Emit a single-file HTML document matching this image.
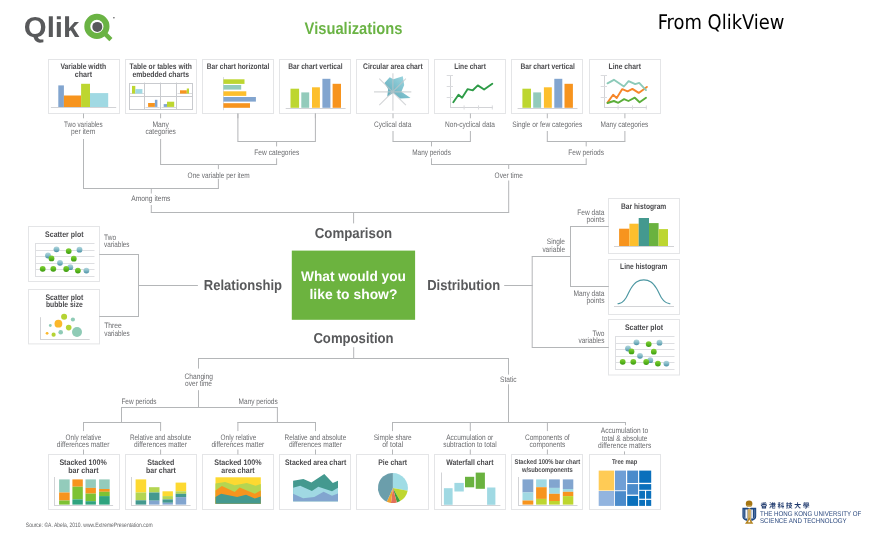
<!DOCTYPE html>
<html lang="en"><head><meta charset="utf-8"><title>Visualizations - From QlikView</title>
<style>
html,body{margin:0;padding:0;background:#fff;}
body{width:871px;height:535px;overflow:hidden;}
svg{display:block;text-rendering:geometricPrecision;font-family:"Liberation Sans","Noto Sans CJK TC",sans-serif;}
.ln path{stroke:#b4b6b8;stroke-width:1;fill:none;}
.ax path{stroke:#d2d3d6;stroke-width:1;fill:none;}
.tk path{stroke:#dadbde;}
.sg path{stroke:#dedfe2;}
</style></head><body>
<svg width="871" height="535" viewBox="0 0 871 535">
<defs>
<linearGradient id="gb" x1="0" y1="0" x2="0" y2="1"><stop offset="0" stop-color="#b2d6dd"/><stop offset="0.45" stop-color="#8bbfcb"/><stop offset="1" stop-color="#4a90a4"/></linearGradient>
<linearGradient id="gg" x1="0" y1="0" x2="0" y2="1"><stop offset="0" stop-color="#84d038"/><stop offset="0.45" stop-color="#63bd22"/><stop offset="1" stop-color="#3a9a10"/></linearGradient>
<linearGradient id="rad" x1="1" y1="0" x2="0" y2="1"><stop offset="0" stop-color="#a6dde6"/><stop offset="1" stop-color="#5aa6b6"/></linearGradient>
</defs>
<rect width="871" height="535" fill="#fff"/>

<text x="23.8" y="36.8" font-size="28.6" font-weight="bold" fill="#58595b" textLength="55.5" lengthAdjust="spacingAndGlyphs">Qlik</text>
<g><circle cx="96.9" cy="26.4" r="9.6" fill="none" stroke="#6ab344" stroke-width="6"/><path d="M104.6 33.4L110.9 39.6" stroke="#6ab344" stroke-width="4.4" fill="none"/><circle cx="97.3" cy="26.9" r="5" fill="#58595b"/><circle cx="113.9" cy="17.8" r="0.8" fill="#58595b"/></g>
<text x="304.6" y="33.8" font-size="16.8" font-weight="bold" fill="#6ab344" textLength="97.8" lengthAdjust="spacingAndGlyphs">Visualizations</text>
<text x="657.7" y="29.2" font-size="20.2" font-weight="normal" fill="#000" textLength="126.8" lengthAdjust="spacingAndGlyphs" font-family="DejaVu Sans Condensed, DejaVu Sans, Liberation Sans, sans-serif">From QlikView</text>
<rect x="48.5" y="59.5" width="71.0" height="54.0" fill="#fff" stroke="#e4e5e7" stroke-width="1"/>
<rect x="48.5" y="454.5" width="71.0" height="55.0" fill="#fff" stroke="#e4e5e7" stroke-width="1"/>
<rect x="125.5" y="59.5" width="71.0" height="54.0" fill="#fff" stroke="#e4e5e7" stroke-width="1"/>
<rect x="125.5" y="454.5" width="71.0" height="55.0" fill="#fff" stroke="#e4e5e7" stroke-width="1"/>
<rect x="202.5" y="59.5" width="71.0" height="54.0" fill="#fff" stroke="#e4e5e7" stroke-width="1"/>
<rect x="202.5" y="454.5" width="71.0" height="55.0" fill="#fff" stroke="#e4e5e7" stroke-width="1"/>
<rect x="279.5" y="59.5" width="71.0" height="54.0" fill="#fff" stroke="#e4e5e7" stroke-width="1"/>
<rect x="279.5" y="454.5" width="71.0" height="55.0" fill="#fff" stroke="#e4e5e7" stroke-width="1"/>
<rect x="356.5" y="59.5" width="72.0" height="54.0" fill="#fff" stroke="#e4e5e7" stroke-width="1"/>
<rect x="356.5" y="454.5" width="72.0" height="55.0" fill="#fff" stroke="#e4e5e7" stroke-width="1"/>
<rect x="434.5" y="59.5" width="71.0" height="54.0" fill="#fff" stroke="#e4e5e7" stroke-width="1"/>
<rect x="434.5" y="454.5" width="71.0" height="55.0" fill="#fff" stroke="#e4e5e7" stroke-width="1"/>
<rect x="511.5" y="59.5" width="71.0" height="54.0" fill="#fff" stroke="#e4e5e7" stroke-width="1"/>
<rect x="511.5" y="454.5" width="71.0" height="55.0" fill="#fff" stroke="#e4e5e7" stroke-width="1"/>
<rect x="589.5" y="59.5" width="71.0" height="54.0" fill="#fff" stroke="#e4e5e7" stroke-width="1"/>
<rect x="589.5" y="454.5" width="71.0" height="55.0" fill="#fff" stroke="#e4e5e7" stroke-width="1"/>
<rect x="28.5" y="226.5" width="71.0" height="55.0" fill="#fff" stroke="#e4e5e7" stroke-width="1"/>
<rect x="28.5" y="289.5" width="71.0" height="54.39999999999998" fill="#fff" stroke="#e4e5e7" stroke-width="1"/>
<rect x="608.5" y="198.5" width="71.0" height="55.0" fill="#fff" stroke="#e4e5e7" stroke-width="1"/>
<rect x="608.5" y="259.5" width="71.0" height="55.0" fill="#fff" stroke="#e4e5e7" stroke-width="1"/>
<rect x="608.5" y="319.5" width="71.0" height="55.5" fill="#fff" stroke="#e4e5e7" stroke-width="1"/>
<g class="ln">
<path d="M83.5 113.5V118.3"/>
<path d="M160.6 113.5V118.3"/>
<path d="M237.9 113.5V118.3"/>
<path d="M315.4 113.5V118.3"/>
<path d="M393.0 113.5V118.3"/>
<path d="M470.4 113.5V118.3"/>
<path d="M547.3 113.5V118.3"/>
<path d="M624.9 113.5V118.3"/>
<path d="M83.5 139.0V188.4"/>
<path d="M83.0 188.5H218.9"/>
<path d="M151.3 188.4V193.5"/>
<path d="M151.3 205.0V212.4"/>
<path d="M150.8 212.5H509.2"/>
<path d="M160.6 139.0V164.3"/>
<path d="M160.1 164.5H277.1"/>
<path d="M218.4 164.3V169.2"/>
<path d="M218.4 178.8V188.4"/>
<path d="M237.9 113.5V141.3"/>
<path d="M315.4 113.5V141.3"/>
<path d="M237.4 141.5H315.9"/>
<path d="M276.6 141.3V146.4"/>
<path d="M276.6 158.3V164.3"/>
<path d="M353.6 212.4V223.4"/>
<path d="M393.0 131.0V141.3"/>
<path d="M470.4 131.0V141.3"/>
<path d="M392.5 141.5H470.9"/>
<path d="M431.5 141.3V146.4"/>
<path d="M431.5 158.3V164.3"/>
<path d="M431.0 164.5H586.7"/>
<path d="M508.7 164.3V169.0"/>
<path d="M508.7 180.5V212.4"/>
<path d="M547.3 131.0V141.3"/>
<path d="M624.9 131.0V141.3"/>
<path d="M546.8 141.5H625.4"/>
<path d="M586.2 141.3V146.4"/>
<path d="M586.2 158.3V164.3"/>
<path d="M99.3 254.5H139.0"/>
<path d="M99.3 316.5H139.0"/>
<path d="M138.5 254.5V316.1"/>
<path d="M138.0 285.5H197.9"/>
<path d="M504.2 285.5H532.7"/>
<path d="M532.2 256.7V347.0"/>
<path d="M531.7 256.5H571.0"/>
<path d="M570.5 226.1V286.1"/>
<path d="M570.0 226.5H608.8"/>
<path d="M570.0 286.5H608.8"/>
<path d="M531.7 347.5H608.8"/>
<path d="M353.7 347.2V358.0"/>
<path d="M198.0 358.5H509.0"/>
<path d="M198.5 358.0V368.6"/>
<path d="M198.5 390.2V407.2"/>
<path d="M121.0 407.5H277.9"/>
<path d="M121.5 407.2V422.2"/>
<path d="M83.0 422.5H161.1"/>
<path d="M83.5 422.2V431.1"/>
<path d="M160.6 422.2V431.1"/>
<path d="M277.4 407.2V422.2"/>
<path d="M237.4 422.5H316.0"/>
<path d="M237.9 422.2V431.1"/>
<path d="M315.5 422.2V431.1"/>
<path d="M508.5 358.0V374.6"/>
<path d="M508.5 384.3V422.2"/>
<path d="M392.0 422.5H626.0"/>
<path d="M392.5 422.2V431.1"/>
<path d="M470.3 422.2V431.1"/>
<path d="M547.4 422.2V431.1"/>
<path d="M625.5 422.2V425.3"/>
<path d="M83.5 449.5V454.5"/>
<path d="M160.6 449.5V454.5"/>
<path d="M237.9 449.5V454.5"/>
<path d="M315.5 449.5V454.5"/>
<path d="M392.5 449.5V454.5"/>
<path d="M470.3 449.5V454.5"/>
<path d="M547.4 449.5V454.5"/>
<path d="M624.5 451.4V454.5"/>
</g>
<text x="64.1" y="126.9" font-size="7.9" font-weight="normal" fill="#6b6c6f" textLength="38.7" lengthAdjust="spacingAndGlyphs">Two variables</text>
<text x="71.1" y="133.9" font-size="7.9" font-weight="normal" fill="#6b6c6f" textLength="24.2" lengthAdjust="spacingAndGlyphs">per item</text>
<text x="152.5" y="126.9" font-size="7.9" font-weight="normal" fill="#6b6c6f" textLength="16.5" lengthAdjust="spacingAndGlyphs">Many</text>
<text x="145.4" y="133.8" font-size="7.9" font-weight="normal" fill="#6b6c6f" textLength="30.5" lengthAdjust="spacingAndGlyphs">categories</text>
<text x="374.0" y="127.0" font-size="7.9" font-weight="normal" fill="#6b6c6f" textLength="37.3" lengthAdjust="spacingAndGlyphs">Cyclical data</text>
<text x="445.1" y="127.0" font-size="7.9" font-weight="normal" fill="#6b6c6f" textLength="49.9" lengthAdjust="spacingAndGlyphs">Non-cyclical data</text>
<text x="512.2" y="127.0" font-size="7.9" font-weight="normal" fill="#6b6c6f" textLength="70.1" lengthAdjust="spacingAndGlyphs">Single or few categories</text>
<text x="600.5" y="127.0" font-size="7.9" font-weight="normal" fill="#6b6c6f" textLength="47.8" lengthAdjust="spacingAndGlyphs">Many categories</text>
<text x="254.3" y="154.7" font-size="7.9" font-weight="normal" fill="#6b6c6f" textLength="44.9" lengthAdjust="spacingAndGlyphs">Few categories</text>
<text x="412.2" y="154.7" font-size="7.9" font-weight="normal" fill="#6b6c6f" textLength="38.7" lengthAdjust="spacingAndGlyphs">Many periods</text>
<text x="568.3" y="154.7" font-size="7.9" font-weight="normal" fill="#6b6c6f" textLength="35.7" lengthAdjust="spacingAndGlyphs">Few periods</text>
<text x="187.6" y="177.6" font-size="7.9" font-weight="normal" fill="#6b6c6f" textLength="62.1" lengthAdjust="spacingAndGlyphs">One variable per item</text>
<text x="494.6" y="177.6" font-size="7.9" font-weight="normal" fill="#6b6c6f" textLength="28.2" lengthAdjust="spacingAndGlyphs">Over time</text>
<text x="131.3" y="201.1" font-size="7.9" font-weight="normal" fill="#6b6c6f" textLength="39.1" lengthAdjust="spacingAndGlyphs">Among items</text>
<text x="104.1" y="239.9" font-size="7.9" font-weight="normal" fill="#6b6c6f" textLength="12.1" lengthAdjust="spacingAndGlyphs">Two</text>
<text x="104.1" y="246.9" font-size="7.9" font-weight="normal" fill="#6b6c6f" textLength="25.4" lengthAdjust="spacingAndGlyphs">variables</text>
<text x="104.2" y="328.1" font-size="7.9" font-weight="normal" fill="#6b6c6f" textLength="17.6" lengthAdjust="spacingAndGlyphs">Three</text>
<text x="104.2" y="335.7" font-size="7.9" font-weight="normal" fill="#6b6c6f" textLength="25.5" lengthAdjust="spacingAndGlyphs">variables</text>
<text x="577.3" y="214.9" font-size="7.9" font-weight="normal" fill="#6b6c6f" textLength="27.2" lengthAdjust="spacingAndGlyphs">Few data</text>
<text x="586.6" y="222.1" font-size="7.9" font-weight="normal" fill="#6b6c6f" textLength="17.9" lengthAdjust="spacingAndGlyphs">points</text>
<text x="546.8" y="244.2" font-size="7.9" font-weight="normal" fill="#6b6c6f" textLength="18.2" lengthAdjust="spacingAndGlyphs">Single</text>
<text x="542.4" y="251.5" font-size="7.9" font-weight="normal" fill="#6b6c6f" textLength="22.6" lengthAdjust="spacingAndGlyphs">variable</text>
<text x="573.5" y="295.7" font-size="7.9" font-weight="normal" fill="#6b6c6f" textLength="31.0" lengthAdjust="spacingAndGlyphs">Many data</text>
<text x="586.6" y="303.2" font-size="7.9" font-weight="normal" fill="#6b6c6f" textLength="17.9" lengthAdjust="spacingAndGlyphs">points</text>
<text x="592.4" y="336.0" font-size="7.9" font-weight="normal" fill="#6b6c6f" textLength="12.1" lengthAdjust="spacingAndGlyphs">Two</text>
<text x="578.4" y="343.3" font-size="7.9" font-weight="normal" fill="#6b6c6f" textLength="26.1" lengthAdjust="spacingAndGlyphs">variables</text>
<text x="184.5" y="379.0" font-size="7.9" font-weight="normal" fill="#6b6c6f" textLength="28.5" lengthAdjust="spacingAndGlyphs">Changing</text>
<text x="185.1" y="385.9" font-size="7.9" font-weight="normal" fill="#6b6c6f" textLength="26.9" lengthAdjust="spacingAndGlyphs">over time</text>
<text x="121.4" y="403.6" font-size="7.9" font-weight="normal" fill="#6b6c6f" textLength="35.2" lengthAdjust="spacingAndGlyphs">Few periods</text>
<text x="238.6" y="403.6" font-size="7.9" font-weight="normal" fill="#6b6c6f" textLength="39.1" lengthAdjust="spacingAndGlyphs">Many periods</text>
<text x="500.1" y="382.4" font-size="7.9" font-weight="normal" fill="#6b6c6f" textLength="16.5" lengthAdjust="spacingAndGlyphs">Static</text>
<text x="65.6" y="439.7" font-size="7.9" font-weight="normal" fill="#6b6c6f" textLength="35.6" lengthAdjust="spacingAndGlyphs">Only relative</text>
<text x="56.8" y="447.0" font-size="7.9" font-weight="normal" fill="#6b6c6f" textLength="52.7" lengthAdjust="spacingAndGlyphs">differences matter</text>
<text x="129.9" y="439.7" font-size="7.9" font-weight="normal" fill="#6b6c6f" textLength="61.4" lengthAdjust="spacingAndGlyphs">Relative and absolute</text>
<text x="134.1" y="447.0" font-size="7.9" font-weight="normal" fill="#6b6c6f" textLength="52.9" lengthAdjust="spacingAndGlyphs">differences matter</text>
<text x="220.6" y="439.7" font-size="7.9" font-weight="normal" fill="#6b6c6f" textLength="35.7" lengthAdjust="spacingAndGlyphs">Only relative</text>
<text x="211.4" y="447.0" font-size="7.9" font-weight="normal" fill="#6b6c6f" textLength="52.9" lengthAdjust="spacingAndGlyphs">differences matter</text>
<text x="284.5" y="439.7" font-size="7.9" font-weight="normal" fill="#6b6c6f" textLength="61.7" lengthAdjust="spacingAndGlyphs">Relative and absolute</text>
<text x="288.9" y="447.0" font-size="7.9" font-weight="normal" fill="#6b6c6f" textLength="53.1" lengthAdjust="spacingAndGlyphs">differences matter</text>
<text x="373.7" y="439.7" font-size="7.9" font-weight="normal" fill="#6b6c6f" textLength="38.0" lengthAdjust="spacingAndGlyphs">Simple share</text>
<text x="382.2" y="447.0" font-size="7.9" font-weight="normal" fill="#6b6c6f" textLength="21.0" lengthAdjust="spacingAndGlyphs">of total</text>
<text x="446.2" y="439.7" font-size="7.9" font-weight="normal" fill="#6b6c6f" textLength="47.1" lengthAdjust="spacingAndGlyphs">Accumulation or</text>
<text x="443.2" y="447.0" font-size="7.9" font-weight="normal" fill="#6b6c6f" textLength="53.5" lengthAdjust="spacingAndGlyphs">subtraction to total</text>
<text x="524.9" y="439.7" font-size="7.9" font-weight="normal" fill="#6b6c6f" textLength="44.8" lengthAdjust="spacingAndGlyphs">Components of</text>
<text x="529.5" y="447.0" font-size="7.9" font-weight="normal" fill="#6b6c6f" textLength="35.9" lengthAdjust="spacingAndGlyphs">components</text>
<text x="600.7" y="432.9" font-size="7.9" font-weight="normal" fill="#6b6c6f" textLength="47.5" lengthAdjust="spacingAndGlyphs">Accumulation to</text>
<text x="602.0" y="440.6" font-size="7.9" font-weight="normal" fill="#6b6c6f" textLength="45.5" lengthAdjust="spacingAndGlyphs">total &amp; absolute</text>
<text x="598.1" y="448.0" font-size="7.9" font-weight="normal" fill="#6b6c6f" textLength="53.2" lengthAdjust="spacingAndGlyphs">difference matters</text>
<text x="25.8" y="527.2" font-size="6.3" font-weight="normal" fill="#626366" textLength="126.9" lengthAdjust="spacingAndGlyphs">Source: ©A. Abela, 2010. www.ExtremePresentation.com</text>
<rect x="291.8" y="250.6" width="123.3" height="69.2" fill="#6cb33f"/>
<text x="301.0" y="281.2" font-size="14" font-weight="bold" fill="#fff" textLength="104.9" lengthAdjust="spacingAndGlyphs">What would you</text>
<text x="309.5" y="299.4" font-size="14" font-weight="bold" fill="#fff" textLength="87.9" lengthAdjust="spacingAndGlyphs">like to show?</text>
<text x="314.8" y="237.5" font-size="14.5" font-weight="bold" fill="#58595b" textLength="77.3" lengthAdjust="spacingAndGlyphs">Comparison</text>
<text x="313.4" y="342.6" font-size="14.5" font-weight="bold" fill="#58595b" textLength="80.2" lengthAdjust="spacingAndGlyphs">Composition</text>
<text x="203.8" y="289.7" font-size="14.5" font-weight="bold" fill="#58595b" textLength="78.2" lengthAdjust="spacingAndGlyphs">Relationship</text>
<text x="427.2" y="289.7" font-size="14.5" font-weight="bold" fill="#58595b" textLength="72.9" lengthAdjust="spacingAndGlyphs">Distribution</text>
<text x="60.4" y="68.8" font-size="8.1" font-weight="bold" fill="#4a4a4d" textLength="45.7" lengthAdjust="spacingAndGlyphs">Variable width</text>
<text x="74.7" y="76.8" font-size="8.1" font-weight="bold" fill="#4a4a4d" textLength="17.4" lengthAdjust="spacingAndGlyphs">chart</text>
<text x="129.6" y="68.9" font-size="8.1" font-weight="bold" fill="#4a4a4d" textLength="62.3" lengthAdjust="spacingAndGlyphs">Table or tables with</text>
<text x="132.4" y="76.6" font-size="8.1" font-weight="bold" fill="#4a4a4d" textLength="56.6" lengthAdjust="spacingAndGlyphs">embedded charts</text>
<text x="206.8" y="68.9" font-size="8.1" font-weight="bold" fill="#4a4a4d" textLength="62.6" lengthAdjust="spacingAndGlyphs">Bar chart horizontal</text>
<text x="288.2" y="68.9" font-size="8.1" font-weight="bold" fill="#4a4a4d" textLength="54.4" lengthAdjust="spacingAndGlyphs">Bar chart vertical</text>
<text x="363.0" y="68.9" font-size="8.1" font-weight="bold" fill="#4a4a4d" textLength="59.7" lengthAdjust="spacingAndGlyphs">Circular area chart</text>
<text x="454.2" y="68.9" font-size="8.1" font-weight="bold" fill="#4a4a4d" textLength="31.7" lengthAdjust="spacingAndGlyphs">Line chart</text>
<text x="520.4" y="68.9" font-size="8.1" font-weight="bold" fill="#4a4a4d" textLength="54.4" lengthAdjust="spacingAndGlyphs">Bar chart vertical</text>
<text x="608.6" y="68.9" font-size="8.1" font-weight="bold" fill="#4a4a4d" textLength="32.3" lengthAdjust="spacingAndGlyphs">Line chart</text>
<text x="45.1" y="236.8" font-size="8.1" font-weight="bold" fill="#4a4a4d" textLength="38.4" lengthAdjust="spacingAndGlyphs">Scatter plot</text>
<text x="45.4" y="299.9" font-size="8.1" font-weight="bold" fill="#4a4a4d" textLength="38.0" lengthAdjust="spacingAndGlyphs">Scatter plot</text>
<text x="45.9" y="307.0" font-size="8.1" font-weight="bold" fill="#4a4a4d" textLength="36.9" lengthAdjust="spacingAndGlyphs">bubble size</text>
<text x="621.0" y="208.7" font-size="8.1" font-weight="bold" fill="#4a4a4d" textLength="45.3" lengthAdjust="spacingAndGlyphs">Bar histogram</text>
<text x="620.1" y="269.3" font-size="8.1" font-weight="bold" fill="#4a4a4d" textLength="47.3" lengthAdjust="spacingAndGlyphs">Line histogram</text>
<text x="624.9" y="329.5" font-size="8.1" font-weight="bold" fill="#4a4a4d" textLength="38.2" lengthAdjust="spacingAndGlyphs">Scatter plot</text>
<text x="59.4" y="465.1" font-size="8.1" font-weight="bold" fill="#4a4a4d" textLength="47.3" lengthAdjust="spacingAndGlyphs">Stacked 100%</text>
<text x="68.3" y="472.5" font-size="8.1" font-weight="bold" fill="#4a4a4d" textLength="30.2" lengthAdjust="spacingAndGlyphs">bar chart</text>
<text x="147.2" y="465.1" font-size="8.1" font-weight="bold" fill="#4a4a4d" textLength="27.1" lengthAdjust="spacingAndGlyphs">Stacked</text>
<text x="146.0" y="472.5" font-size="8.1" font-weight="bold" fill="#4a4a4d" textLength="29.9" lengthAdjust="spacingAndGlyphs">bar chart</text>
<text x="214.2" y="465.1" font-size="8.1" font-weight="bold" fill="#4a4a4d" textLength="47.4" lengthAdjust="spacingAndGlyphs">Stacked 100%</text>
<text x="221.3" y="472.5" font-size="8.1" font-weight="bold" fill="#4a4a4d" textLength="33.4" lengthAdjust="spacingAndGlyphs">area chart</text>
<text x="285.0" y="465.1" font-size="8.1" font-weight="bold" fill="#4a4a4d" textLength="61.2" lengthAdjust="spacingAndGlyphs">Stacked area chart</text>
<text x="378.3" y="465.1" font-size="8.1" font-weight="bold" fill="#4a4a4d" textLength="28.8" lengthAdjust="spacingAndGlyphs">Pie chart</text>
<text x="446.2" y="465.1" font-size="8.1" font-weight="bold" fill="#4a4a4d" textLength="47.3" lengthAdjust="spacingAndGlyphs">Waterfall chart</text>
<text x="514.5" y="464.0" font-size="6.9" font-weight="bold" fill="#4a4a4d" textLength="65.6" lengthAdjust="spacingAndGlyphs">Stacked 100% bar chart</text>
<text x="521.9" y="471.7" font-size="6.9" font-weight="bold" fill="#4a4a4d" textLength="50.8" lengthAdjust="spacingAndGlyphs">w/subcomponents</text>
<text x="611.9" y="464.0" font-size="6.9" font-weight="bold" fill="#4a4a4d" textLength="25.5" lengthAdjust="spacingAndGlyphs">Tree map</text>
<rect x="58.3" y="85.4" width="5.6" height="21.8" fill="#82A5CF"/>
<rect x="63.9" y="95.5" width="17.2" height="11.7" fill="#F7941E"/>
<rect x="81.1" y="83.8" width="8.9" height="23.4" fill="#BDD630"/>
<rect x="90.0" y="93.1" width="18.2" height="14.1" fill="#A0D9E3"/>
<g class="ax">
<path d="M50.9 107.5H116.2"/>
</g>
<g fill="none" stroke="#c9cbcf" stroke-width="1"><rect x="129.5" y="83.5" width="63" height="26"/><path d="M129.5 96.5H192.5M144.5 82.6V109.5M160.5 82.6V109.5M176.5 82.6V109.5"/></g>
<g class="ax tk">
<path d="M130.0 93.5H144.0"/>
<path d="M177.5 93.5H192.0"/>
<path d="M145.5 107.5H159.5"/>
<path d="M161.5 107.5H176.0"/>
</g>
<rect x="132.0" y="85.9" width="3.3" height="7.7" fill="#BDD630"/>
<rect x="135.3" y="89.1" width="7.1" height="4.5" fill="#A0D9E3"/>
<rect x="180.0" y="90.3" width="6.8" height="3.3" fill="#F7941E"/>
<rect x="186.8" y="88.5" width="2.2" height="5.1" fill="#BDD630"/>
<rect x="148.1" y="103.0" width="6.8" height="3.9" fill="#F7941E"/>
<rect x="154.9" y="99.8" width="2.5" height="7.1" fill="#82A5CF"/>
<rect x="163.7" y="104.1" width="3.3" height="2.8" fill="#82A5CF"/>
<rect x="167.0" y="101.7" width="7.2" height="5.2" fill="#BDD630"/>
<g class="ax tk">
<path d="M223.5 77.1V110.2"/>
</g>
<rect x="223.4" y="79.3" width="21.1" height="4.6" fill="#BDD630"/>
<rect x="223.4" y="85.0" width="17.8" height="4.6" fill="#93CBBB"/>
<rect x="223.4" y="91.3" width="22.9" height="4.6" fill="#FDBF2D"/>
<rect x="223.4" y="97.0" width="32.5" height="4.6" fill="#82A5CF"/>
<rect x="223.4" y="103.2" width="26.6" height="4.6" fill="#F7941E"/>
<rect x="290.5" y="88.7" width="8.6" height="19.1" fill="#BDD630"/>
<rect x="301.3" y="92.4" width="7.9" height="15.4" fill="#93CBBB"/>
<rect x="312.0" y="87.3" width="7.9" height="20.5" fill="#FDBF2D"/>
<rect x="322.4" y="78.8" width="8.0" height="29.0" fill="#82A5CF"/>
<rect x="332.6" y="83.8" width="8.4" height="24.0" fill="#F7941E"/>
<g class="ax">
<path d="M285.7 108.5H345.6"/>
</g>
<rect x="522.4" y="88.7" width="8.6" height="19.1" fill="#BDD630"/>
<rect x="533.2" y="92.4" width="7.9" height="15.4" fill="#93CBBB"/>
<rect x="543.9" y="87.3" width="7.9" height="20.5" fill="#FDBF2D"/>
<rect x="554.3" y="78.8" width="8.0" height="29.0" fill="#82A5CF"/>
<rect x="564.5" y="83.8" width="8.4" height="24.0" fill="#F7941E"/>
<g class="ax">
<path d="M517.6 108.5H577.5"/>
</g>
<polygon points="384.5,82.9 389.7,77.2 393.3,79.2 402.8,76.3 404.2,84.9 401.4,91.7 410.6,98.1 400.2,98.5 393.4,92.9 387.3,96.5 388.1,88.9" fill="url(#rad)"/>
<g fill="none" stroke="#c2c4c7" stroke-width="1.15" opacity="0.7"><path d="M374 91.9H411.3M392.9 73.2V110.7M379.3 78.7L405.9 105.1M405.9 78.7L379.3 105.1"/></g>
<g class="ax">
<path d="M450.5 75.0V108.0"/>
<path d="M450.0 107.5H493.0"/>
</g><g class="ax tk">
<path d="M446.7 75.5H453.0"/>
<path d="M446.7 86.5H453.0"/>
<path d="M446.7 97.5H453.0"/>
<path d="M464.1 105.4V109.5"/>
<path d="M478.5 105.4V109.5"/>
<path d="M492.3 105.4V109.5"/>
</g>
<g class="ax">
<path d="M604.5 75.0V108.0"/>
<path d="M604.0 107.5H647.0"/>
</g><g class="ax tk">
<path d="M600.7 75.5H607.0"/>
<path d="M600.7 86.5H607.0"/>
<path d="M600.7 97.5H607.0"/>
<path d="M618.1 105.4V109.5"/>
<path d="M632.5 105.4V109.5"/>
<path d="M646.3 105.4V109.5"/>
</g>
<polyline points="453.3,102.2 458.5,94.8 462.1,97.7 467.7,89.1 472.8,90.3 477.8,85.4 484.1,89.5 492.3,83.8" fill="none" stroke="#2e9b47" stroke-width="1.9" stroke-linejoin="round" stroke-linecap="round"/>
<polyline points="607.5,102.6 613.1,94.8 616.7,98.0 622.3,89.1 627.6,91.3 632.4,88.9 638.7,92.9 646.9,86.9" fill="none" stroke="#f6862a" stroke-width="1.9" stroke-linejoin="round" stroke-linecap="round"/>
<polyline points="607.5,83.3 613.9,79.8 623.9,86.5 628.6,81.1 635.2,84.1 639.2,82.9 646.0,90.1" fill="none" stroke="#8ccab9" stroke-width="1.9" stroke-linejoin="round" stroke-linecap="round"/>
<polyline points="607.5,103.0 613.9,101.0 618.3,102.8 624.1,99.1 628.4,101.0 634.8,97.7 639.6,102.3 646.0,97.7" fill="none" stroke="#5bae3a" stroke-width="1.9" stroke-linejoin="round" stroke-linecap="round"/>
<g class="ax sg">
<path d="M35.0 243.5H94.5"/>
<path d="M35.0 250.5H94.5"/>
<path d="M35.0 256.5H94.5"/>
<path d="M35.0 263.5H94.5"/>
<path d="M35.0 269.5H94.5"/>
<path d="M35.0 276.5H94.5"/>
<path d="M35.5 243.5V276.5"/>
</g>
<circle cx="56.5" cy="249.3" r="2.9" fill="url(#gb)"/>
<circle cx="79.5" cy="249.7" r="2.9" fill="url(#gb)"/>
<circle cx="48.0" cy="255.5" r="2.9" fill="url(#gb)"/>
<circle cx="60.0" cy="262.8" r="2.9" fill="url(#gb)"/>
<circle cx="70.3" cy="267.2" r="2.9" fill="url(#gb)"/>
<circle cx="86.4" cy="270.6" r="2.9" fill="url(#gb)"/>
<circle cx="68.7" cy="251.1" r="2.9" fill="url(#gg)"/>
<circle cx="51.5" cy="258.4" r="2.9" fill="url(#gg)"/>
<circle cx="73.8" cy="258.7" r="2.9" fill="url(#gg)"/>
<circle cx="42.7" cy="268.8" r="2.9" fill="url(#gg)"/>
<circle cx="53.3" cy="268.8" r="2.9" fill="url(#gg)"/>
<circle cx="66.2" cy="269.0" r="2.9" fill="url(#gg)"/>
<circle cx="77.9" cy="270.6" r="2.9" fill="url(#gg)"/>
<g class="ax sg">
<path d="M615.0 336.5H674.5"/>
<path d="M615.0 343.5H674.5"/>
<path d="M615.0 349.5H674.5"/>
<path d="M615.0 356.5H674.5"/>
<path d="M615.0 362.5H674.5"/>
<path d="M615.0 369.5H674.5"/>
<path d="M615.5 336.5V369.5"/>
</g>
<circle cx="636.5" cy="342.3" r="2.9" fill="url(#gb)"/>
<circle cx="659.5" cy="342.7" r="2.9" fill="url(#gb)"/>
<circle cx="628.0" cy="348.5" r="2.9" fill="url(#gb)"/>
<circle cx="640.0" cy="355.8" r="2.9" fill="url(#gb)"/>
<circle cx="650.3" cy="360.2" r="2.9" fill="url(#gb)"/>
<circle cx="666.4" cy="363.6" r="2.9" fill="url(#gb)"/>
<circle cx="648.7" cy="344.1" r="2.9" fill="url(#gg)"/>
<circle cx="631.5" cy="351.4" r="2.9" fill="url(#gg)"/>
<circle cx="653.8" cy="351.7" r="2.9" fill="url(#gg)"/>
<circle cx="622.7" cy="361.8" r="2.9" fill="url(#gg)"/>
<circle cx="633.3" cy="361.8" r="2.9" fill="url(#gg)"/>
<circle cx="646.2" cy="362.0" r="2.9" fill="url(#gg)"/>
<circle cx="657.9" cy="363.6" r="2.9" fill="url(#gg)"/>
<g class="ax">
<path d="M40.5 317.2V340.0"/>
<path d="M40.0 339.5H89.7"/>
</g>
<circle cx="64.1" cy="316.8" r="3.0" fill="#b5d334"/>
<circle cx="72.9" cy="319.5" r="2.1" fill="#8fcbb6"/>
<circle cx="50.3" cy="325.5" r="1.4" fill="#8fcbb6"/>
<circle cx="58.4" cy="323.7" r="3.9" fill="#fbb82b"/>
<circle cx="68.7" cy="327.6" r="2.8" fill="#b5d334"/>
<circle cx="77.0" cy="332.0" r="5.0" fill="#8fcbb6"/>
<circle cx="60.7" cy="332.2" r="2.3" fill="#8fcbb6"/>
<circle cx="53.6" cy="334.7" r="2.1" fill="#b5d334"/>
<circle cx="47.1" cy="333.3" r="1.4" fill="#fbb82b"/>
<rect x="619.1" y="228.7" width="10.3" height="17.3" fill="#F7941E"/>
<rect x="629.4" y="223.7" width="9.3" height="22.3" fill="#FDBF2D"/>
<rect x="638.7" y="218.0" width="10.3" height="28.0" fill="#44998F"/>
<rect x="649.0" y="223.1" width="9.6" height="22.9" fill="#6AB23F"/>
<rect x="658.6" y="229.1" width="9.4" height="16.9" fill="#BDD630"/>
<g class="ax">
<path d="M614.0 246.5H674.0"/>
<path d="M614.0 306.5H674.0"/>
</g>
<path d="M618.00 303.75C618.67 303.52 620.65 303.41 622.00 302.40C623.35 301.39 624.62 300.02 626.10 297.70C627.58 295.38 629.17 291.12 630.90 288.50C632.63 285.88 634.35 283.43 636.50 282.00C638.65 280.57 641.38 279.90 643.80 279.90C646.22 279.90 648.87 280.57 651.00 282.00C653.13 283.43 654.87 285.88 656.60 288.50C658.33 291.12 659.92 295.43 661.40 297.70C662.88 299.97 664.08 301.09 665.50 302.10C666.92 303.11 669.17 303.48 669.90 303.75" fill="none" stroke="#4c97a2" stroke-width="1.15" stroke-linecap="round"/>
<g class="ax">
<path d="M54.5 477.0V505.3"/>
<path d="M54.0 505.5H113.1"/>
<path d="M131.5 477.0V505.3"/>
<path d="M131.0 505.5H190.6"/>
<path d="M441.5 472.5V505.3"/>
<path d="M441.0 505.5H500.4"/>
<path d="M518.5 477.0V505.3"/>
<path d="M518.0 505.5H577.5"/>
</g>
<rect x="59.1" y="479.4" width="10.6" height="13.1" fill="#93CBBB"/>
<rect x="59.1" y="492.5" width="10.6" height="8.0" fill="#F7941E"/>
<rect x="59.1" y="500.5" width="10.6" height="4.1" fill="#7DC234"/>
<rect x="72.4" y="479.4" width="10.4" height="7.3" fill="#F7941E"/>
<rect x="72.4" y="486.7" width="10.4" height="12.7" fill="#7DC234"/>
<rect x="72.4" y="499.4" width="10.4" height="5.2" fill="#2FA47F"/>
<rect x="85.5" y="479.4" width="10.4" height="8.5" fill="#93CBBB"/>
<rect x="85.5" y="487.9" width="10.4" height="5.7" fill="#F7941E"/>
<rect x="85.5" y="493.6" width="10.4" height="7.6" fill="#7DC234"/>
<rect x="85.5" y="501.2" width="10.4" height="3.4" fill="#2FA47F"/>
<rect x="99.1" y="479.4" width="10.6" height="9.6" fill="#93CBBB"/>
<rect x="99.1" y="489.0" width="10.6" height="2.8" fill="#F7941E"/>
<rect x="99.1" y="491.8" width="10.6" height="4.3" fill="#7DC234"/>
<rect x="99.1" y="496.1" width="10.6" height="8.5" fill="#2FA47F"/>
<rect x="135.6" y="479.4" width="10.6" height="13.1" fill="#FDD931"/>
<rect x="135.6" y="492.5" width="10.6" height="7.8" fill="#B4D552"/>
<rect x="135.6" y="500.3" width="10.6" height="4.3" fill="#44998F"/>
<rect x="149.0" y="487.2" width="10.5" height="5.3" fill="#B4D552"/>
<rect x="149.0" y="492.5" width="10.5" height="8.2" fill="#44998F"/>
<rect x="149.0" y="500.7" width="10.5" height="3.9" fill="#82A5CF"/>
<rect x="162.5" y="491.3" width="10.4" height="4.8" fill="#FDD931"/>
<rect x="162.5" y="496.1" width="10.4" height="3.3" fill="#B4D552"/>
<rect x="162.5" y="499.4" width="10.4" height="3.4" fill="#44998F"/>
<rect x="162.5" y="502.8" width="10.4" height="1.8" fill="#82A5CF"/>
<rect x="175.6" y="482.6" width="10.6" height="8.7" fill="#FDD931"/>
<rect x="175.6" y="491.3" width="10.6" height="2.5" fill="#B4D552"/>
<rect x="175.6" y="493.8" width="10.6" height="3.3" fill="#44998F"/>
<rect x="175.6" y="497.1" width="10.6" height="7.5" fill="#82A5CF"/>
<rect x="215.5" y="477.3" width="45.3" height="26.5" fill="#FDD931"/>
<polygon points="215.5,483.6 225.1,482.0 234.7,485.2 246.8,482.9 255.6,485.7 260.8,484.1 260.8,503.8 215.5,503.8" fill="#B4D552"/>
<polygon points="215.5,490.5 221.9,486.1 234.7,492.1 239.6,487.6 254.8,493.7 260.8,490.5 260.8,503.8 215.5,503.8" fill="#F7941E"/>
<polygon points="215.5,496.9 221.1,493.7 237.2,496.9 246.0,494.8 254.8,498.5 260.8,496.4 260.8,503.8 215.5,503.8" fill="#44998F"/>
<polygon points="293.1,480.8 303.4,478.9 311.4,482.5 324.3,473.9 332.8,482.9 338.0,480.8 338.0,501.3 293.1,501.3" fill="#44998F"/>
<polygon points="293.1,487.8 300.2,485.7 311.9,491.0 318.3,486.8 332.0,491.3 338.0,487.8 338.0,501.3 293.1,501.3" fill="#A0D9E3"/>
<polygon points="293.1,493.7 303.1,498.2 314.3,496.9 323.6,491.8 332.0,495.8 338.0,493.4 338.0,501.3 293.1,501.3" fill="#82A5CF"/>
<path d="M392.9 488.0L392.90 473.00A15 15 0 0 1 407.63 490.84Z" fill="#a0dce5"/>
<path d="M392.9 488.0L407.63 490.84A15 15 0 0 1 400.17 501.12Z" fill="#bfd730"/>
<path d="M392.9 488.0L400.17 501.12A15 15 0 0 1 396.86 502.47Z" fill="#3e9f3b"/>
<path d="M392.9 488.0L396.86 502.47A15 15 0 0 1 390.97 502.88Z" fill="#e2705a"/>
<path d="M392.9 488.0L390.97 502.88A15 15 0 0 1 386.80 501.70Z" fill="#efa22f"/>
<path d="M392.9 488.0L386.80 501.70A15 15 0 0 1 392.90 473.00Z" fill="#6b9eab"/>
<rect x="443.9" y="488.2" width="8.7" height="16.6" fill="#A0D9E3"/>
<rect x="454.4" y="482.9" width="9.4" height="8.6" fill="#A0D9E3"/>
<rect x="465.0" y="476.8" width="9.2" height="10.5" fill="#6AB23F"/>
<rect x="475.7" y="472.6" width="9.2" height="16.2" fill="#6AB23F"/>
<rect x="487.1" y="487.5" width="8.3" height="17.3" fill="#A0D9E3"/>
<rect x="522.5" y="479.4" width="10.8" height="13.1" fill="#82A5CF"/>
<rect x="522.5" y="492.5" width="10.8" height="8.0" fill="#A0D9E3"/>
<rect x="522.5" y="500.5" width="10.8" height="4.1" fill="#F7941E"/>
<rect x="536.1" y="479.4" width="10.6" height="7.8" fill="#A0D9E3"/>
<rect x="536.1" y="487.2" width="10.6" height="11.7" fill="#F7941E"/>
<rect x="536.1" y="498.9" width="10.6" height="5.7" fill="#BDD630"/>
<rect x="549.0" y="479.4" width="10.8" height="8.5" fill="#82A5CF"/>
<rect x="549.0" y="487.9" width="10.8" height="5.9" fill="#A0D9E3"/>
<rect x="549.0" y="493.8" width="10.8" height="7.2" fill="#F7941E"/>
<rect x="549.0" y="501.0" width="10.8" height="3.6" fill="#BDD630"/>
<rect x="562.8" y="479.4" width="10.5" height="9.6" fill="#82A5CF"/>
<rect x="562.8" y="489.0" width="10.5" height="2.8" fill="#A0D9E3"/>
<rect x="562.8" y="491.8" width="10.5" height="4.3" fill="#F7941E"/>
<rect x="562.8" y="496.1" width="10.5" height="8.5" fill="#BDD630"/>
<rect x="598.7" y="470.6" width="15.5" height="19.9" fill="#ffcb55"/>
<rect x="598.7" y="491.0" width="15.5" height="14.9" fill="#92b4df"/>
<rect x="615.0" y="470.6" width="11.0" height="19.7" fill="#6f9fd6"/>
<rect x="615.0" y="491.2" width="11.0" height="14.7" fill="#4a8bcb"/>
<rect x="627.2" y="470.6" width="10.9" height="12.4" fill="#4a8bcb"/>
<rect x="627.2" y="484.1" width="10.9" height="10.5" fill="#4a8bcb"/>
<rect x="627.2" y="495.9" width="10.9" height="10.0" fill="#0a70bc"/>
<rect x="639.2" y="470.6" width="12.0" height="12.2" fill="#0a70bc"/>
<rect x="639.2" y="484.1" width="12.0" height="5.7" fill="#0a70bc"/>
<rect x="639.2" y="490.8" width="5.8" height="7.9" fill="#0a70bc"/>
<rect x="646.1" y="490.8" width="5.1" height="7.9" fill="#0a70bc"/>
<rect x="639.2" y="499.9" width="5.8" height="6.0" fill="#0a70bc"/>
<rect x="646.1" y="499.9" width="5.1" height="6.0" fill="#0a70bc"/>
<g>
<path d="M742.4 507.7H747.6L749.3 508.6L751 507.7H756.2V516.4Q756.2 519.4 752.3 520.8H751.2V509.4H747.4V520.8H746.3Q742.4 519.4 742.4 516.4Z" fill="#1d4782"/>
<path d="M743.9 509.3V516.3Q744.1 518 745.5 519M754.7 509.3V516.3Q754.5 518 753.1 519" fill="none" stroke="#8ea4c6" stroke-width="0.55"/>
<path d="M746.2 509.5V518.6M752.1 509.5V518.6" fill="none" stroke="#fff" stroke-width="1.5"/>
<rect x="747.7" y="508.9" width="3.2" height="10.5" fill="#cbaa62"/>
<polygon points="749.3,517.6 753.3,523.8 745.0,523.8" fill="#b3831f"/>
<polygon points="749.3,519.4 750.5,522.2 748.1,522.2" fill="#fff"/>
<circle cx="749.1" cy="503.8" r="3.3" fill="#a57512"/>
<path d="M746.3 505.5A3.3 3.3 0 0 0 751.9 505.5Z" fill="#cdb06d"/>
</g>
<text x="760.5" y="507.6" font-size="6.8" font-weight="bold" fill="#1f3a6e" textLength="49.0" lengthAdjust="spacing" font-family="Liberation Sans, Noto Sans CJK TC, sans-serif">香港科技大學</text>
<text x="760.0" y="515.7" font-size="6.9" font-weight="normal" fill="#2f4c80" textLength="101.2" lengthAdjust="spacingAndGlyphs">THE HONG KONG UNIVERSITY OF</text>
<text x="760.0" y="523.0" font-size="6.9" font-weight="normal" fill="#2f4c80" textLength="86.7" lengthAdjust="spacingAndGlyphs">SCIENCE AND TECHNOLOGY</text>
</svg></body></html>
